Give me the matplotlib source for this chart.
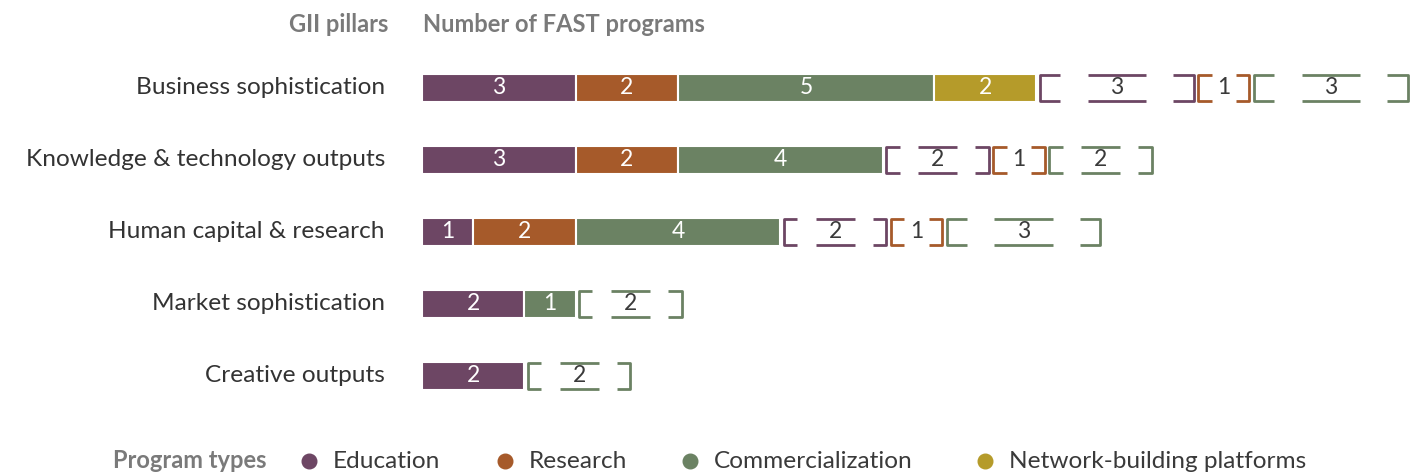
import matplotlib
matplotlib.use("Agg")
import matplotlib.pyplot as plt
from matplotlib.lines import Line2D
import numpy as np

plt.rcParams['font.family'] = ['Lato', 'DejaVu Sans']

pillars = ["Business sophistication", "Knowledge & technology outputs",
           "Human capital & research", "Market sophistication", "Creative outputs"]
types = ["Education", "Research", "Commercialization", "Network-building platforms"]
colors = ["#6D4664", "#A65A2A", "#6B8263", "#B59B2A"]

# filled bars
edu = [3, 3, 1, 2, 2]
research = [2, 2, 2, 0, 0]
comm = [5, 4, 4, 1, 0]
network = [2, 0, 0, 0, 0]
# bracketed segments
edu_b = [3, 2, 2, 0, 0]
research_b = [1, 1, 1, 0, 0]
comm_b = [3, 2, 3, 2, 2]

W, H = 1414, 475
fig = plt.figure(figsize=(W / 100, H / 100), dpi=100)
ax = fig.add_axes([422 / W, (H - 412) / H, 992 / W, 360 / H])
ax.set_xlim(0, 992 / 51.2)
ax.set_ylim(4.5, -0.5)
ax.axis('off')

bar_h = 0.4
filled = [edu, research, comm, network]
brackets = [edu_b, research_b, comm_b]

for i, name in enumerate(pillars):
    left = 0
    for k, vals in enumerate(filled):
        v = vals[i]
        if v == 0:
            continue
        ax.barh(i, v, left=left, height=bar_h, color=colors[k],
                edgecolor='white', linewidth=1.5)
        ax.text(left + v / 2, i, str(v), color='white', fontsize=16.5,
                ha='center', va='center')
        left += v
    x = left + 0.07
    for k, vals in enumerate(brackets):
        v = vals[i]
        if v == 0:
            continue
        c = colors[k]
        top, bot = i - bar_h / 2 + 0.02, i + bar_h / 2 - 0.02
        arm = 0.4 if v >= 3 else 0.26
        kw = dict(color=c, lw=2, solid_capstyle='butt', clip_on=False)
        ax.plot([x + arm, x, x, x + arm], [top, top, bot, bot], **kw)
        ax.plot([x + v - arm, x + v, x + v, x + v - arm], [top, top, bot, bot], **kw)
        if v >= 2:
            half = 0.19 * v
            cx = x + v / 2
            ax.plot([cx - half, cx + half], [top, top], **kw)
            ax.plot([cx - half, cx + half], [bot, bot], **kw)
        ax.text(x + v / 2, i, str(v), color='#3a3a3a', fontsize=16.5,
                ha='center', va='center')
        x += v + 0.09
    fig.text(385 / W, 1 - (88 + 72 * i) / H, name, ha='right', va='center',
             fontsize=17.6, color='#333333')

fig.text(388 / W, 1 - 24 / H, "GII pillars", ha='right', va='center',
         fontsize=17, fontweight='bold', color='#7a7a7a')
fig.text(423 / W, 1 - 24 / H, "Number of FAST programs", ha='left', va='center',
         fontsize=17, fontweight='bold', color='#7a7a7a')

# legend
ly = 1 - 461 / H
fig.text(113 / W, ly, "Program types", ha='left', va='center',
         fontsize=17, fontweight='bold', color='#7a7a7a')
dot_x = [309, 505, 690, 985]
for t, c, dx in zip(types, colors, dot_x):
    fig.add_artist(Line2D([dx / W], [ly], marker='o', markersize=10.5,
                          color=c, linestyle='none', transform=fig.transFigure))
    fig.text((dx + 24) / W, ly, t, ha='left', va='center', fontsize=17.6,
             color='#3a3a3a')

fig.savefig("out.png", dpi=100)
